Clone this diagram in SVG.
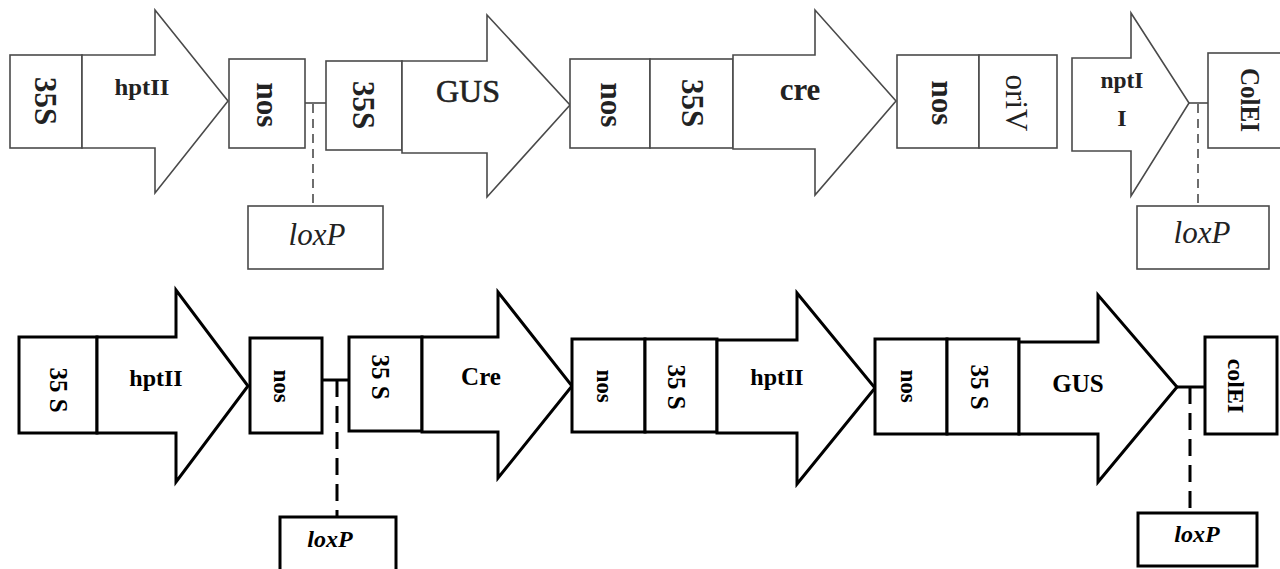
<svg xmlns="http://www.w3.org/2000/svg" width="1280" height="569" viewBox="0 0 1280 569">
  <style>
    .t { fill: #fff; stroke: #4a4a4a; stroke-width: 1.6; }
    .b { fill: #fff; stroke: #000; stroke-width: 3; }
    .tl { stroke: #4a4a4a; stroke-width: 1.6; fill: none; }
    .bl { stroke: #000; stroke-width: 3; fill: none; }
    .td { stroke-dasharray: 9 6; }
    .bd { stroke-dasharray: 17 9; }
    text { font-family: "Liberation Serif", "Times New Roman", serif; text-anchor: middle; }
    .tt { fill: #222; font-weight: bold; }
    .tr { fill: #222; }
    .heavy { stroke: #222; stroke-width: 0.6; }
    .bt { fill: #000; font-weight: bold; }
    .it { font-style: italic; }
  </style>

  <!-- upper construct -->
  <g id="connectors-top">
    <line class="tl" x1="305" y1="103" x2="326" y2="103"/>
    <line class="tl td" x1="313" y1="104" x2="313" y2="206"/>
    <line class="tl" x1="1189" y1="103" x2="1208" y2="103"/>
    <line class="tl td" x1="1198" y1="104" x2="1198" y2="206"/>
  </g>

  <g id="t-35s-1">
    <rect class="t" x="10" y="55" width="72" height="93"/>
    <text class="tt" font-size="31" transform="translate(46,101) rotate(90)" y="11">35S</text>
  </g>
  <g id="t-hptII">
    <polygon class="t" points="82,55 155,55 155,10 228,101 155,193 155,148 82,148"/>
    <text class="tt" font-size="23" x="142" y="95" textLength="55" lengthAdjust="spacingAndGlyphs">hptII</text>
  </g>
  <g id="t-nos-1">
    <rect class="t" x="229" y="59" width="76" height="89"/>
    <text class="tt" font-size="31" transform="translate(264,105) rotate(90)" y="7">nos</text>
  </g>
  <g id="t-loxP-1">
    <rect class="t" x="248" y="206" width="135" height="63"/>
    <text class="tr it" font-size="31" x="317" y="245">loxP</text>
  </g>
  <g id="t-35s-2">
    <rect class="t" x="326" y="61" width="76" height="89"/>
    <text class="tt" font-size="31" transform="translate(364,105) rotate(90)" y="11">35S</text>
  </g>
  <g id="t-GUS">
    <polygon class="t" points="402,61 487,61 487,15 570,105 487,197 487,153 402,153"/>
    <text class="tr heavy" font-size="32" x="468" y="102">GUS</text>
  </g>
  <g id="t-nos-2">
    <rect class="t" x="570" y="59" width="80" height="89"/>
    <text class="tt" font-size="31" transform="translate(608,105) rotate(90)" y="7">nos</text>
  </g>
  <g id="t-35s-3">
    <rect class="t" x="650" y="59" width="83" height="89"/>
    <text class="tt" font-size="31" transform="translate(693,103) rotate(90)" y="11">35S</text>
  </g>
  <g id="t-cre">
    <polygon class="t" points="733,55 815,55 815,10 896,101 815,195 815,149 733,149"/>
    <text class="tt" font-size="31" x="800" y="100">cre</text>
  </g>
  <g id="t-nos-3">
    <rect class="t" x="897" y="55" width="82" height="93"/>
    <text class="tt" font-size="31" transform="translate(939,103) rotate(90)" y="7">nos</text>
  </g>
  <g id="t-oriV">
    <rect class="t" x="979" y="55" width="78" height="93"/>
    <text class="tr" font-size="31" transform="translate(1017,103) rotate(90)" y="11">oriV</text>
  </g>
  <g id="t-nptII">
    <polygon class="t" points="1072,58 1131,58 1131,13 1189,103 1131,196 1131,151 1072,151"/>
    <text class="tt" font-size="23" x="1122" y="88" textLength="43" lengthAdjust="spacingAndGlyphs">nptI</text>
    <text class="tt" font-size="24" x="1122" y="126">I</text>
  </g>
  <g id="t-ColEI">
    <rect class="t" x="1208" y="53" width="76" height="95"/>
    <text class="tt" font-size="28" transform="translate(1251,100) rotate(90)" y="10" textLength="64" lengthAdjust="spacingAndGlyphs">ColEI</text>
  </g>
  <g id="t-loxP-2">
    <rect class="t" x="1137" y="206" width="132" height="63"/>
    <text class="tr it" font-size="31" x="1202" y="243">loxP</text>
  </g>

  <!-- lower construct -->
  <g id="connectors-bottom">
    <line class="bl" x1="322" y1="380" x2="349" y2="380"/>
    <line class="bl bd" x1="337" y1="380" x2="337" y2="517"/>
    <line class="bl" x1="1177" y1="387" x2="1205" y2="387"/>
    <line class="bl bd" x1="1190" y1="387" x2="1190" y2="513"/>
  </g>

  <g id="b-35s-1">
    <rect class="b" x="19" y="337" width="78" height="96"/>
    <text class="bt" font-size="25" transform="translate(58,390) rotate(90)" y="8">35 S</text>
  </g>
  <g id="b-hptII-1">
    <polygon class="b" points="97,337 176,337 176,290 248,386 176,482 176,433 97,433"/>
    <text class="bt" font-size="24" x="156" y="386">hptII</text>
  </g>
  <g id="b-nos-1">
    <rect class="b" x="250" y="338" width="72" height="95"/>
    <text class="bt" font-size="23" transform="translate(279,386) rotate(90)" y="5">nos</text>
  </g>
  <g id="b-loxP-1">
    <rect class="b" x="280" y="517" width="116" height="60"/>
    <text class="bt it" font-size="24" x="330" y="547">loxP</text>
  </g>
  <g id="b-35s-2">
    <rect class="b" x="349" y="337" width="73" height="94"/>
    <text class="bt" font-size="25" transform="translate(380,377) rotate(90)" y="8">35 S</text>
  </g>
  <g id="b-Cre">
    <polygon class="b" points="422,337 498,337 498,292 572,386 498,478 498,432 422,432"/>
    <text class="bt" font-size="25" x="481" y="385">Cre</text>
  </g>
  <g id="b-nos-2">
    <rect class="b" x="572" y="339" width="73" height="93"/>
    <text class="bt" font-size="23" transform="translate(602,386) rotate(90)" y="5">nos</text>
  </g>
  <g id="b-35s-3">
    <rect class="b" x="645" y="339" width="72" height="93"/>
    <text class="bt" font-size="25" transform="translate(676,387) rotate(90)" y="8">35 S</text>
  </g>
  <g id="b-hptII-2">
    <polygon class="b" points="717,340 797,340 797,293 875,388 797,484 797,433 717,433"/>
    <text class="bt" font-size="24" x="777" y="385">hptII</text>
  </g>
  <g id="b-nos-3">
    <rect class="b" x="875" y="339" width="72" height="95"/>
    <text class="bt" font-size="23" transform="translate(906,386) rotate(90)" y="5">nos</text>
  </g>
  <g id="b-35s-4">
    <rect class="b" x="947" y="339" width="72" height="95"/>
    <text class="bt" font-size="25" transform="translate(979,387) rotate(90)" y="8">35 S</text>
  </g>
  <g id="b-GUS">
    <polygon class="b" points="1019,342 1098,342 1098,295 1177,387 1098,482 1098,434 1019,434"/>
    <text class="bt" font-size="25" x="1078" y="392">GUS</text>
  </g>
  <g id="b-colEI">
    <rect class="b" x="1205" y="337" width="72" height="97"/>
    <text class="bt" font-size="24" transform="translate(1234,386) rotate(90)" y="6">colEI</text>
  </g>
  <g id="b-loxP-2">
    <rect class="b" x="1138" y="513" width="119" height="53"/>
    <text class="bt it" font-size="24" x="1197" y="542">loxP</text>
  </g>
</svg>
